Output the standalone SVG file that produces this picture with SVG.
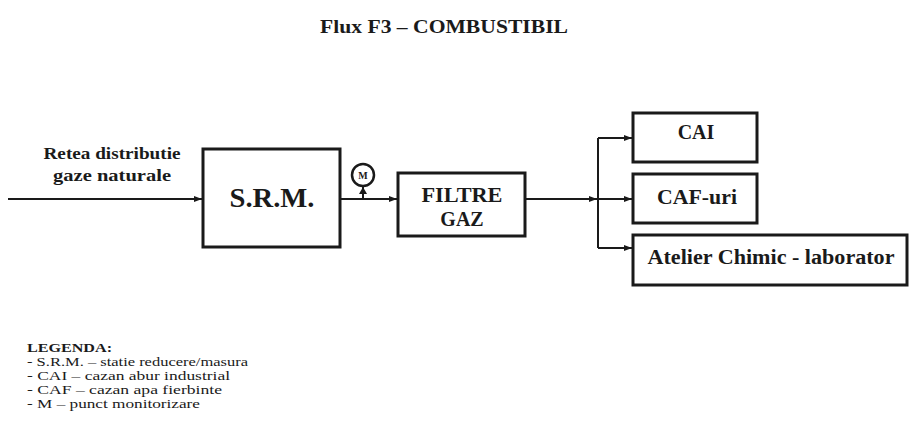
<svg xmlns="http://www.w3.org/2000/svg" width="913" height="438" viewBox="0 0 913 438">
<defs>
<style>
.box{fill:#fff;stroke:#1a1a1a;stroke-width:3}
.ln{fill:none;stroke:#1a1a1a;stroke-width:2}
text{font-family:"Liberation Serif","DejaVu Serif",serif;fill:#1a1a1a}
.t{font-weight:bold}
.lg{font-size:12px}
</style>
<marker id="ar" viewBox="0 0 8 8" refX="8" refY="4" markerWidth="8" markerHeight="8" markerUnits="userSpaceOnUse" orient="auto">
<path d="M0,1 L8,4 L0,7 Z" fill="#1a1a1a"/>
</marker>
</defs>
<rect width="913" height="438" fill="#fff"/>
<text class="t" x="444" y="33" font-size="18" text-anchor="middle" textLength="248" lengthAdjust="spacingAndGlyphs">Flux F3 – COMBUSTIBIL</text>

<g id="connectors">
<path class="ln" d="M8 199 H202" marker-end="url(#ar)"/>
<path class="ln" d="M340 199 H397" marker-end="url(#ar)"/>
<path class="ln" d="M525 199 H597" marker-end="url(#ar)"/>
<path class="ln" d="M598 138 V248"/>
<path class="ln" d="M598 138 H632" marker-end="url(#ar)"/>
<path class="ln" d="M598 199 H632" marker-end="url(#ar)"/>
<path class="ln" d="M598 248 H632" marker-end="url(#ar)"/>
</g>

<g id="input-label">
<text class="t" x="112" y="159" font-size="17" text-anchor="middle" textLength="137" lengthAdjust="spacingAndGlyphs">Retea distributie</text>
<text class="t" x="112" y="181" font-size="17" text-anchor="middle" textLength="118" lengthAdjust="spacingAndGlyphs">gaze naturale</text>
</g>

<g id="srm">
<rect class="box" x="203" y="149" width="137" height="98"/>
<text class="t" x="272" y="207" font-size="27" text-anchor="middle" textLength="85" lengthAdjust="spacingAndGlyphs">S.R.M.</text>
</g>

<g id="monitor">
<circle cx="363" cy="175" r="11" fill="#fff" stroke="#1a1a1a" stroke-width="2.5"/>
<text class="t" x="363" y="179" font-size="10" text-anchor="middle">M</text>
<path class="ln" d="M363 186 V199"/>
<path d="M363 187 L367 194 L359 194 Z" fill="#1a1a1a"/>
</g>

<g id="filtre">
<rect class="box" x="398" y="173" width="127" height="63"/>
<text class="t" x="462" y="202" font-size="20" text-anchor="middle" textLength="81" lengthAdjust="spacingAndGlyphs">FILTRE</text>
<text class="t" x="462" y="226" font-size="20" text-anchor="middle">GAZ</text>
</g>

<g id="cai">
<rect class="box" x="633" y="113" width="124" height="49"/>
<text class="t" x="696" y="139" font-size="20" text-anchor="middle">CAI</text>
</g>

<g id="caf">
<rect class="box" x="633" y="174" width="124" height="49"/>
<text class="t" x="697" y="204" font-size="20" text-anchor="middle" textLength="80" lengthAdjust="spacingAndGlyphs">CAF-uri</text>
</g>

<g id="atelier">
<rect class="box" x="633" y="235" width="274" height="50"/>
<text class="t" x="771" y="264" font-size="20" text-anchor="middle" textLength="247" lengthAdjust="spacingAndGlyphs">Atelier Chimic - laborator</text>
</g>

<g id="legend">
<text class="lg t" x="27" y="352" textLength="85" lengthAdjust="spacingAndGlyphs">LEGENDA:</text>
<text class="lg" x="27" y="366" textLength="221" lengthAdjust="spacingAndGlyphs">- S.R.M. – statie reducere/masura</text>
<text class="lg" x="27" y="380" textLength="203" lengthAdjust="spacingAndGlyphs">- CAI – cazan abur industrial</text>
<text class="lg" x="27" y="394" textLength="195" lengthAdjust="spacingAndGlyphs">- CAF – cazan apa fierbinte</text>
<text class="lg" x="27" y="408" textLength="173" lengthAdjust="spacingAndGlyphs">- M – punct  monitorizare</text>
</g>
</svg>
